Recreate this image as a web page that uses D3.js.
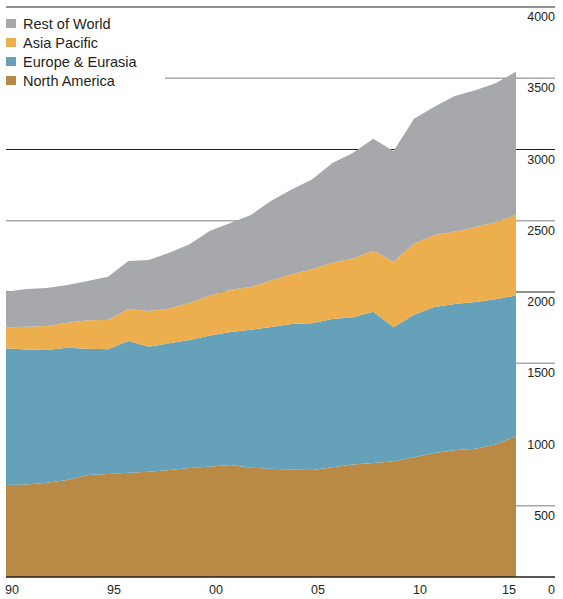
<!DOCTYPE html>
<html>
<head>
<meta charset="utf-8">
<script src="https://cdn.jsdelivr.net/npm/d3@7"></script>
<style>
  body { margin: 0; background: #fff; }
  text { font-family: "Liberation Sans", Arial, sans-serif; fill: #231f20; }
</style>
</head>
<body>
<div id="chart"></div>
<script>
// Data
var years = [1990, 1991, 1992, 1993, 1994, 1995, 1996, 1997, 1998, 1999,
             2000, 2001, 2002, 2003, 2004, 2005, 2006, 2007, 2008, 2009,
             2010, 2011, 2012, 2013, 2014, 2015];

var northAmerica = [646, 650, 662, 681, 716, 723, 732, 739, 751, 765,
                    775, 786, 767, 760, 754, 751, 770, 790, 800, 812,
                    840, 870, 890, 900, 930, 990];
var europeEurasia = [959, 947, 931, 928, 886, 875, 924, 877, 889, 898,
                     920, 934, 968, 995, 1021, 1029, 1040, 1032, 1062, 940,
                     1000, 1025, 1025, 1030, 1020, 985];
var asiaPacific = [147, 160, 168, 176, 199, 206, 225, 251, 245, 262,
                   280, 295, 300, 325, 350, 380, 395, 413, 428, 461,
                   500, 505, 510, 525, 540, 565];
var restOfWorld = [250, 264, 267, 264, 276, 303, 337, 358, 390, 410,
                   455, 470, 505, 560, 595, 630, 700, 740, 785, 777,
                   875, 900, 950, 960, 975, 1005];

var seriesNames = ["North America", "Europe & Eurasia", "Asia Pacific", "Rest of World"];
var seriesColors = ["#b98a46", "#65a1b8", "#edae4d", "#a7a8ab"];

var xTickYears = [1990, 1995, 2000, 2005, 2010, 2015];
var xTickLabels = ["90", "95", "00", "05", "10", "15"];
var yTicks = [500, 1000, 1500, 2000, 2500, 3000, 3500, 4000];

// rows for the stack
var rows = years.map(function(y, i) {
    return {
        year: y,
        "North America": northAmerica[i],
        "Europe & Eurasia": europeEurasia[i],
        "Asia Pacific": asiaPacific[i],
        "Rest of World": restOfWorld[i]
    };
});

var width = 563, height = 599;
var plotLeft = 6, axisRight = 555, plotRight = 516, plotTop = 7, plotBottom = 577;

var svg = d3.select("#chart").append("svg")
    .attr("width", width)
    .attr("height", height);

var x = d3.scaleLinear().domain([1990, 2015]).range([plotLeft, plotRight]);
var y = d3.scaleLinear().domain([0, 4000]).range([plotBottom, plotTop]);

// Gridlines (behind the areas): thousands dark, half-thousands grey
var grid = svg.append("g").attr("class", "grid");
yTicks.forEach(function(v) {
    if (v === 1000) return; // not drawn in the original
    var dark = v % 1000 === 0;
    grid.append("line")
        .attr("x1", v === 3500 ? 165 : plotLeft)
        .attr("x2", axisRight)
        .attr("y1", y(v))
        .attr("y2", y(v))
        .attr("stroke", dark ? "#231f20" : "#a7a8ab")
        .attr("stroke-width", dark ? 1 : 1.5);
});

// Stacked areas
var stack = d3.stack().keys(seriesNames);
var layers = stack(rows);

var area = d3.area()
    .x(function(d) { return x(d.data.year); })
    .y0(function(d) { return y(d[0]); })
    .y1(function(d) { return y(d[1]); });

svg.append("g").selectAll("path")
    .data(layers)
    .enter()
    .append("path")
    .attr("d", area)
    .attr("fill", function(d, i) { return seriesColors[i]; });

// Baseline axis
svg.append("line")
    .attr("x1", plotLeft).attr("x2", axisRight)
    .attr("y1", y(0)).attr("y2", y(0))
    .attr("stroke", "#231f20")
    .attr("stroke-width", 1.5);

// Y labels, right side, just under each gridline
svg.append("g").selectAll("text")
    .data(yTicks)
    .enter()
    .append("text")
    .attr("x", axisRight)
    .attr("y", function(d) { return y(d) + 14; })
    .attr("text-anchor", "end")
    .style("font-size", "12.5px")
    .text(function(d) { return d; });

svg.append("text")
    .attr("x", axisRight)
    .attr("y", plotBottom + 17)
    .attr("text-anchor", "end")
    .style("font-size", "12.5px")
    .text("0");

// X labels
svg.append("g").selectAll("text")
    .data(xTickYears)
    .enter()
    .append("text")
    .attr("x", function(d, i) { return i === xTickYears.length - 1 ? x(d) : x(d) - 1; })
    .attr("y", plotBottom + 17)
    .attr("text-anchor", function(d, i) { return i === xTickYears.length - 1 ? "end" : "start"; })
    .style("font-size", "12.5px")
    .text(function(d, i) { return xTickLabels[i]; });

// Legend (top to bottom: Rest of World first)
var legendOrder = [3, 2, 1, 0];
var legend = svg.append("g").selectAll("g")
    .data(legendOrder)
    .enter()
    .append("g")
    .attr("transform", function(d, i) { return "translate(6," + (19 + i * 19) + ")"; });

legend.append("rect")
    .attr("width", 10)
    .attr("height", 9)
    .attr("fill", function(d) { return seriesColors[d]; });

legend.append("text")
    .attr("x", 17)
    .attr("y", 9.5)
    .style("font-size", "14.5px")
    .text(function(d) { return seriesNames[d]; });
</script>
</body>
</html>
